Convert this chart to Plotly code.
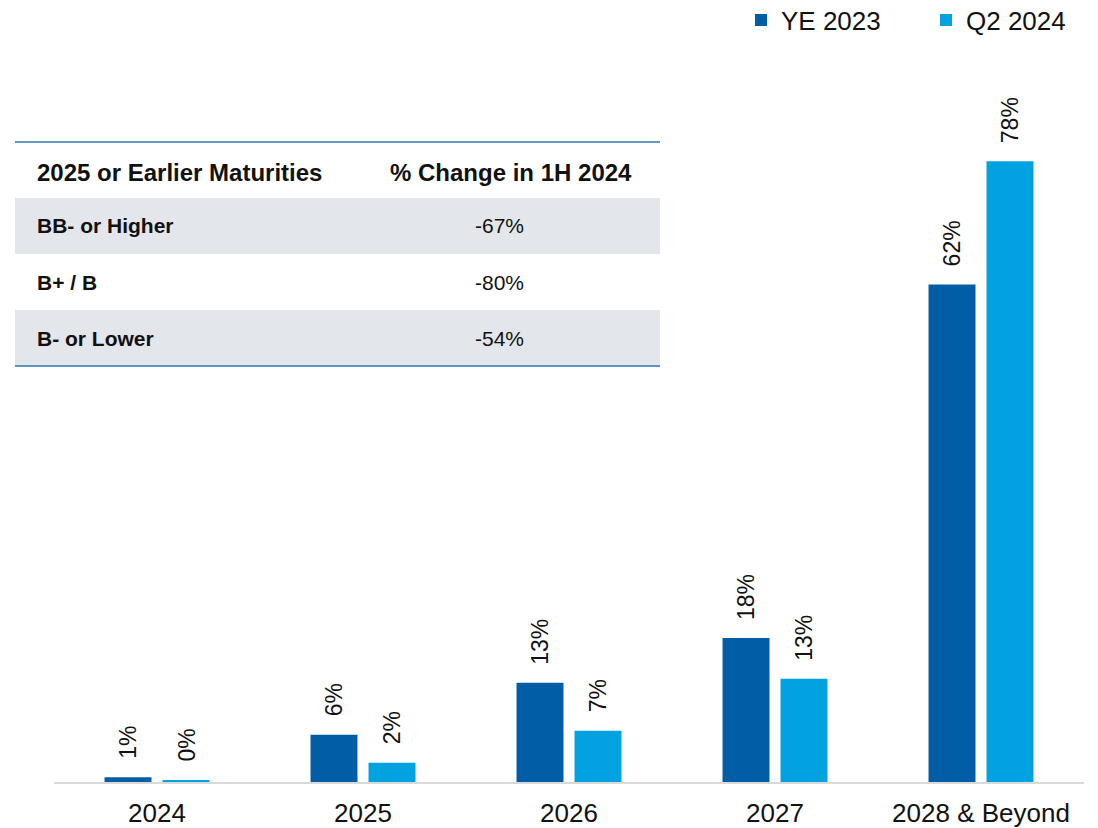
import plotly.graph_objects as go

# ---------------- data ----------------
categories = ["2024", "2025", "2026", "2027", "2028 & Beyond"]
series_names = ["YE 2023", "Q2 2024"]
ye2023 = [0.6, 5.9, 12.4, 18.0, 62.2]
q22024 = [0.25, 2.4, 6.4, 12.9, 77.6]
ye2023_labels = ["1%", "6%", "13%", "18%", "62%"]
q22024_labels = ["0%", "2%", "7%", "13%", "78%"]

table_header = ["2025 or Earlier Maturities", "% Change in 1H 2024"]
table_ratings = ["BB- or Higher", "B+ / B", "B- or Lower"]
table_change = ["-67%", "-80%", "-54%"]

# ---------------- style ----------------
W, H = 1098, 828
ML, MR, MT, MB = 54, 14, 62, 46
PW, PH = W - ML - MR, H - MT - MB
FONT = "Liberation Sans, Arial, sans-serif"
C_DARK = "#005DA6"
C_LIGHT = "#00A3E0"
TXT = "#111111"
LINE = "#2F74B5"
GRAY = "#E3E7EB"


def px_x(px):
    return (px - ML) / PW


def px_y(py):
    return (H - MB - py) / PH


fig = go.Figure()
fig.add_trace(go.Bar(name=series_names[0], x=categories, y=ye2023,
                     marker=dict(color=C_DARK, line=dict(width=0))))
fig.add_trace(go.Bar(name=series_names[1], x=categories, y=q22024,
                     marker=dict(color=C_LIGHT, line=dict(width=0))))

annotations = []
for vals, labs, shift in ((ye2023, ye2023_labels, -29), (q22024, q22024_labels, 29)):
    for i, (v, lab) in enumerate(zip(vals, labs)):
        annotations.append(dict(x=i, y=v, xref="x", yref="y", text=lab,
                                showarrow=False, textangle=-90,
                                xanchor="center", yanchor="bottom",
                                xshift=shift, yshift=16,
                                font=dict(family=FONT, size=23, color=TXT)))

# ---------------- table overlay ----------------
shapes = []
tx0, tx1 = 15, 660
row_edges = [142, 198, 254, 310, 366]
for i in range(3):
    if i % 2 == 0:
        shapes.append(dict(type="rect", xref="paper", yref="paper",
                           x0=px_x(tx0), x1=px_x(tx1),
                           y0=px_y(row_edges[i + 2]), y1=px_y(row_edges[i + 1]),
                           fillcolor=GRAY, line=dict(width=0), layer="below"))
for yy in (row_edges[0], row_edges[-1]):
    shapes.append(dict(type="line", xref="paper", yref="paper",
                       x0=px_x(tx0), x1=px_x(tx1), y0=px_y(yy), y1=px_y(yy),
                       line=dict(color=LINE, width=1.5)))

annotations.append(dict(x=px_x(35), y=px_y(172), xref="paper", yref="paper",
                        text="<b>" + table_header[0] + "</b>", showarrow=False,
                        xanchor="left", yanchor="middle",
                        font=dict(family=FONT, size=24, color=TXT)))
annotations.append(dict(x=px_x(388), y=px_y(172), xref="paper", yref="paper",
                        text="<b>" + table_header[1] + "</b>", showarrow=False,
                        xanchor="left", yanchor="middle",
                        font=dict(family=FONT, size=24, color=TXT)))
for i, (r, ch) in enumerate(zip(table_ratings, table_change)):
    yc = (row_edges[i + 1] + row_edges[i + 2]) / 2
    annotations.append(dict(x=px_x(35), y=px_y(yc), xref="paper", yref="paper",
                            text="<b>" + r + "</b>", showarrow=False,
                            xanchor="left", yanchor="middle",
                            font=dict(family=FONT, size=21, color=TXT)))
    annotations.append(dict(x=px_x(499), y=px_y(yc), xref="paper", yref="paper",
                            text=ch, showarrow=False,
                            xanchor="center", yanchor="middle",
                            font=dict(family=FONT, size=21, color=TXT)))

fig.update_layout(
    width=W, height=H,
    margin=dict(l=ML, r=MR, t=MT, b=MB, pad=0, autoexpand=False),
    paper_bgcolor="white", plot_bgcolor="white",
    barmode="group", bargap=0.437, bargroupgap=0.19,
    font=dict(family=FONT, size=24, color=TXT),
    showlegend=True,
    legend=dict(orientation="h", x=px_x(741), xanchor="left",
                y=px_y(20), yanchor="middle",
                font=dict(family=FONT, size=26, color=TXT),
                entrywidth=140, entrywidthmode="pixels",
                itemclick=False, bgcolor="rgba(0,0,0,0)"),
    xaxis=dict(type="category", categoryorder="array", categoryarray=categories,
               range=[-0.5, len(categories) - 0.5],
               showline=True, linecolor="#D9D9D9", linewidth=1.5,
               ticks="", showgrid=False, zeroline=False, ticklabelstandoff=7,
               tickfont=dict(family=FONT, size=26, color=TXT)),
    yaxis=dict(range=[0, 90], visible=False, showgrid=False, zeroline=False),
    shapes=shapes,
    annotations=annotations,
)

fig.write_html("out.html", config={"displayModeBar": False},
               post_script="document.body.style.margin='0px';")
